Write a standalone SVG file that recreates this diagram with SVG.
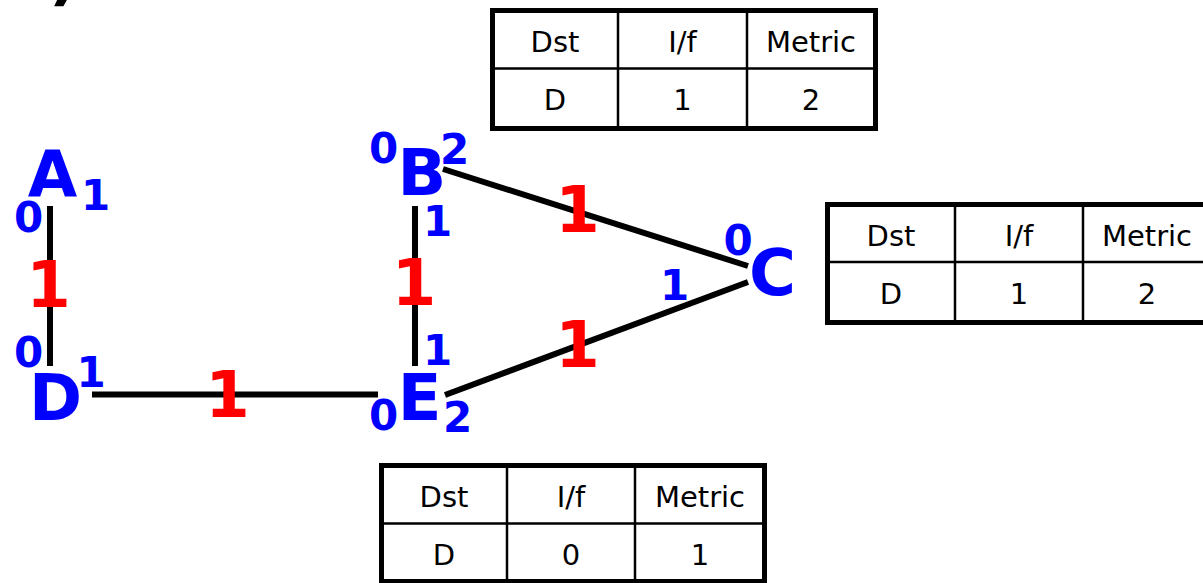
<svg xmlns="http://www.w3.org/2000/svg" width="1203" height="583" viewBox="0 0 1203 583">
<style>
.node{font-family:"DejaVu Sans",Verdana,sans-serif;font-weight:bold;fill:#0000ff;font-size:64px;text-anchor:middle}
.port{font-family:"DejaVu Sans",Verdana,sans-serif;font-weight:bold;fill:#0000ff;font-size:42px;text-anchor:middle}
.cost{font-family:"DejaVu Sans",Verdana,sans-serif;font-weight:bold;fill:#ff0000;font-size:64px;text-anchor:middle}
.link{stroke:#000;stroke-width:6;fill:none}
.tbl{fill:#fff;stroke:#000;stroke-width:5}
.grid{stroke:#000;stroke-width:2.5;fill:none}
.cell{font-family:"DejaVu Sans",Tahoma,sans-serif;font-size:29px;fill:#000;text-anchor:middle}
.frag{font-family:"DejaVu Sans",Verdana,sans-serif;font-weight:bold;font-size:64px;fill:#000}
</style>
<rect width="1203" height="583" fill="#fff"/>
<text class="frag" x="49" y="-2">)</text>

<g id="connectors">
<line class="link" x1="50" y1="206" x2="50" y2="366"/>
<line class="link" x1="415" y1="206" x2="415" y2="366"/>
<line class="link" x1="92" y1="394.5" x2="378" y2="394.5"/>
<line class="link" x1="443" y1="169" x2="748" y2="266"/>
<line class="link" x1="445" y1="395" x2="748" y2="282"/>
</g>

<g id="costs">
<text class="cost" x="48.5" y="307">1</text>
<text class="cost" x="227.5" y="417">1</text>
<text class="cost" x="414" y="305">1</text>
<text class="cost" x="577.5" y="232">1</text>
<text class="cost" x="577.5" y="367">1</text>
</g>

<g id="node-A">
<text class="node" x="52.5" y="197">A</text>
<text class="port" x="95.5" y="210">1</text>
<text class="port" x="28.5" y="232">0</text>
</g>

<g id="node-D">
<text class="node" x="55.5" y="420">D</text>
<text class="port" x="28.5" y="367">0</text>
<text class="port" x="91" y="387">1</text>
</g>

<g id="node-B">
<text class="node" x="422" y="195">B</text>
<text class="port" x="383.5" y="163">0</text>
<text class="port" x="454.5" y="164">2</text>
<text class="port" x="437.5" y="236">1</text>
</g>

<g id="node-E">
<text class="node" x="419.5" y="420">E</text>
<text class="port" x="437.5" y="365">1</text>
<text class="port" x="383.5" y="430">0</text>
<text class="port" x="457.5" y="432">2</text>
</g>

<g id="node-C">
<text class="node" x="772.5" y="295">C</text>
<text class="port" x="738" y="255">0</text>
<text class="port" x="674.5" y="300">1</text>
</g>

<g id="table-B">
<rect class="tbl" x="492.5" y="10.5" width="383" height="118"/>
<line class="grid" x1="492.5" y1="68.5" x2="875.5" y2="68.5"/>
<line class="grid" x1="618" y1="10.5" x2="618" y2="128.5"/>
<line class="grid" x1="747" y1="10.5" x2="747" y2="128.5"/>
<text class="cell" x="555" y="52">Dst</text>
<text class="cell" x="682.5" y="52">I/f</text>
<text class="cell" x="811" y="52">Metric</text>
<text class="cell" x="555" y="110">D</text>
<text class="cell" x="682.5" y="110">1</text>
<text class="cell" x="811" y="110">2</text>
</g>

<g id="table-C">
<rect class="tbl" x="827.5" y="204.5" width="383" height="118"/>
<line class="grid" x1="827.5" y1="262" x2="1210" y2="262"/>
<line class="grid" x1="955" y1="204.5" x2="955" y2="322.5"/>
<line class="grid" x1="1083" y1="204.5" x2="1083" y2="322.5"/>
<text class="cell" x="891" y="246">Dst</text>
<text class="cell" x="1019" y="246">I/f</text>
<text class="cell" x="1147" y="246">Metric</text>
<text class="cell" x="891" y="304">D</text>
<text class="cell" x="1019" y="304">1</text>
<text class="cell" x="1147" y="304">2</text>
</g>

<g id="table-E">
<rect class="tbl" x="381.5" y="465.5" width="383" height="116"/>
<line class="grid" x1="381.5" y1="523.5" x2="764.5" y2="523.5"/>
<line class="grid" x1="507" y1="465.5" x2="507" y2="581.5"/>
<line class="grid" x1="635" y1="465.5" x2="635" y2="581.5"/>
<text class="cell" x="444" y="507">Dst</text>
<text class="cell" x="571" y="507">I/f</text>
<text class="cell" x="700" y="507">Metric</text>
<text class="cell" x="444" y="565">D</text>
<text class="cell" x="571" y="565">0</text>
<text class="cell" x="700" y="565">1</text>
</g>
</svg>
